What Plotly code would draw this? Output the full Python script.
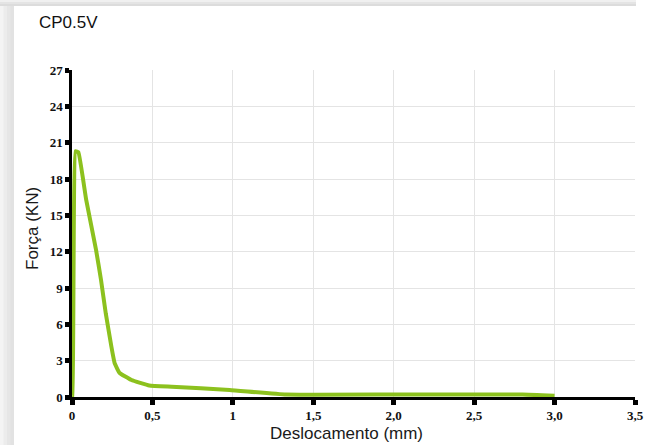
import plotly.graph_objects as go

# Data
deslocamento = [0.0, 0.003, 0.022, 0.04, 0.088, 0.15, 0.18, 0.21, 0.245, 0.265, 0.295, 0.37, 0.48, 0.62, 0.98, 1.33, 2.0, 2.8, 3.0]
forca = [0.0, 0.0, 20.3, 20.2, 16.3, 12.1, 9.7, 6.9, 4.15, 2.8, 2.0, 1.4, 0.95, 0.85, 0.58, 0.2, 0.2, 0.2, 0.1]

x_tickvals = [0, 0.5, 1, 1.5, 2.0, 2.5, 3.0, 3.5]
x_ticktext = ["0", "0,5", "1", "1,5", "2,0", "2,5", "3,0", "3,5"]
y_tickvals = [0, 3, 6, 9, 12, 15, 18, 21, 24, 27]

W, H = 646, 445
L, R, T, B = 72, 11, 70, 48
pw, ph = W - L - R, H - T - B

def px(x):
    return (x - L) / pw

def py(y):
    return (H - B - y) / ph

fig = go.Figure()
fig.add_trace(go.Scatter(
    x=deslocamento, y=forca, mode="lines",
    line=dict(color="#8cc11e", width=4, shape="spline", smoothing=0.3),
    showlegend=False, hoverinfo="skip", cliponaxis=False,
))

shapes = []
# card shadow (left and top)
shade = ["#f4f4f4", "#ececec", "#e6e6e6", "#e2e2e2"]
for i, c in enumerate(shade):
    x0 = i * 3.5
    shapes.append(dict(type="rect", xref="paper", yref="paper",
                       x0=px(x0), x1=px(14), y0=py(H), y1=py(0),
                       fillcolor=c, line=dict(width=0), layer="below"))
for i, c in enumerate(["#f0f0f0", "#e4e4e4", "#dcdcdc"]):
    y0 = i * 2
    shapes.append(dict(type="rect", xref="paper", yref="paper",
                       x0=px(0), x1=px(636), y0=py(6), y1=py(y0),
                       fillcolor=c, line=dict(width=0), layer="below"))
shapes.append(dict(type="rect", xref="paper", yref="paper",
                   x0=px(14), x1=px(646), y0=py(H), y1=py(6),
                   fillcolor="white", line=dict(width=0), layer="below"))

tickfont = dict(family="Liberation Serif, Times New Roman, serif", size=13, color="#111", weight="bold")
labelfont = dict(family="Liberation Sans, Arial, sans-serif", size=17, color="#1a1a1a")

annotations = [
    dict(text="Deslocamento (mm)", xref="paper", yref="paper", x=px(346), y=py(433),
         xanchor="center", yanchor="middle", showarrow=False, font=labelfont),
    dict(text="Força (KN)", xref="paper", yref="paper", x=px(32), y=py(229),
         xanchor="center", yanchor="middle", showarrow=False, textangle=-90, font=labelfont),
]

fig.update_layout(
    width=W, height=H,
    margin=dict(l=L, r=R, t=T, b=B, autoexpand=False),
    paper_bgcolor="white", plot_bgcolor="rgba(0,0,0,0)",
    shapes=shapes, annotations=annotations,
    title=dict(text="CP0.5V", x=39 / W, xanchor="left", y=1 - 22 / H, yanchor="middle",
               automargin=False,
               font=dict(family="Liberation Sans, Arial, sans-serif", size=17, color="#111")),
    xaxis=dict(
        range=[0, 3.5], tickvals=x_tickvals, ticktext=x_ticktext,
        showgrid=True, gridcolor="#e4e4e4", gridwidth=1,
        showline=True, linecolor="black", linewidth=2.5,
        ticks="outside", ticklen=5, tickwidth=5, tickcolor="black",
        tickfont=tickfont, zeroline=False, automargin=False,
    ),
    yaxis=dict(
        range=[0, 27], tickvals=y_tickvals,
        showgrid=True, gridcolor="#e4e4e4", gridwidth=1,
        showline=True, linecolor="black", linewidth=2.5,
        ticks="outside", ticklen=4, tickwidth=5, tickcolor="black",
        tickfont=tickfont, zeroline=False, automargin=False,
    ),
)

fig.write_html(
    "out.html",
    config={"displayModeBar": False},
    post_script="document.body.style.margin='0px';document.body.style.overflow='hidden';",
)
